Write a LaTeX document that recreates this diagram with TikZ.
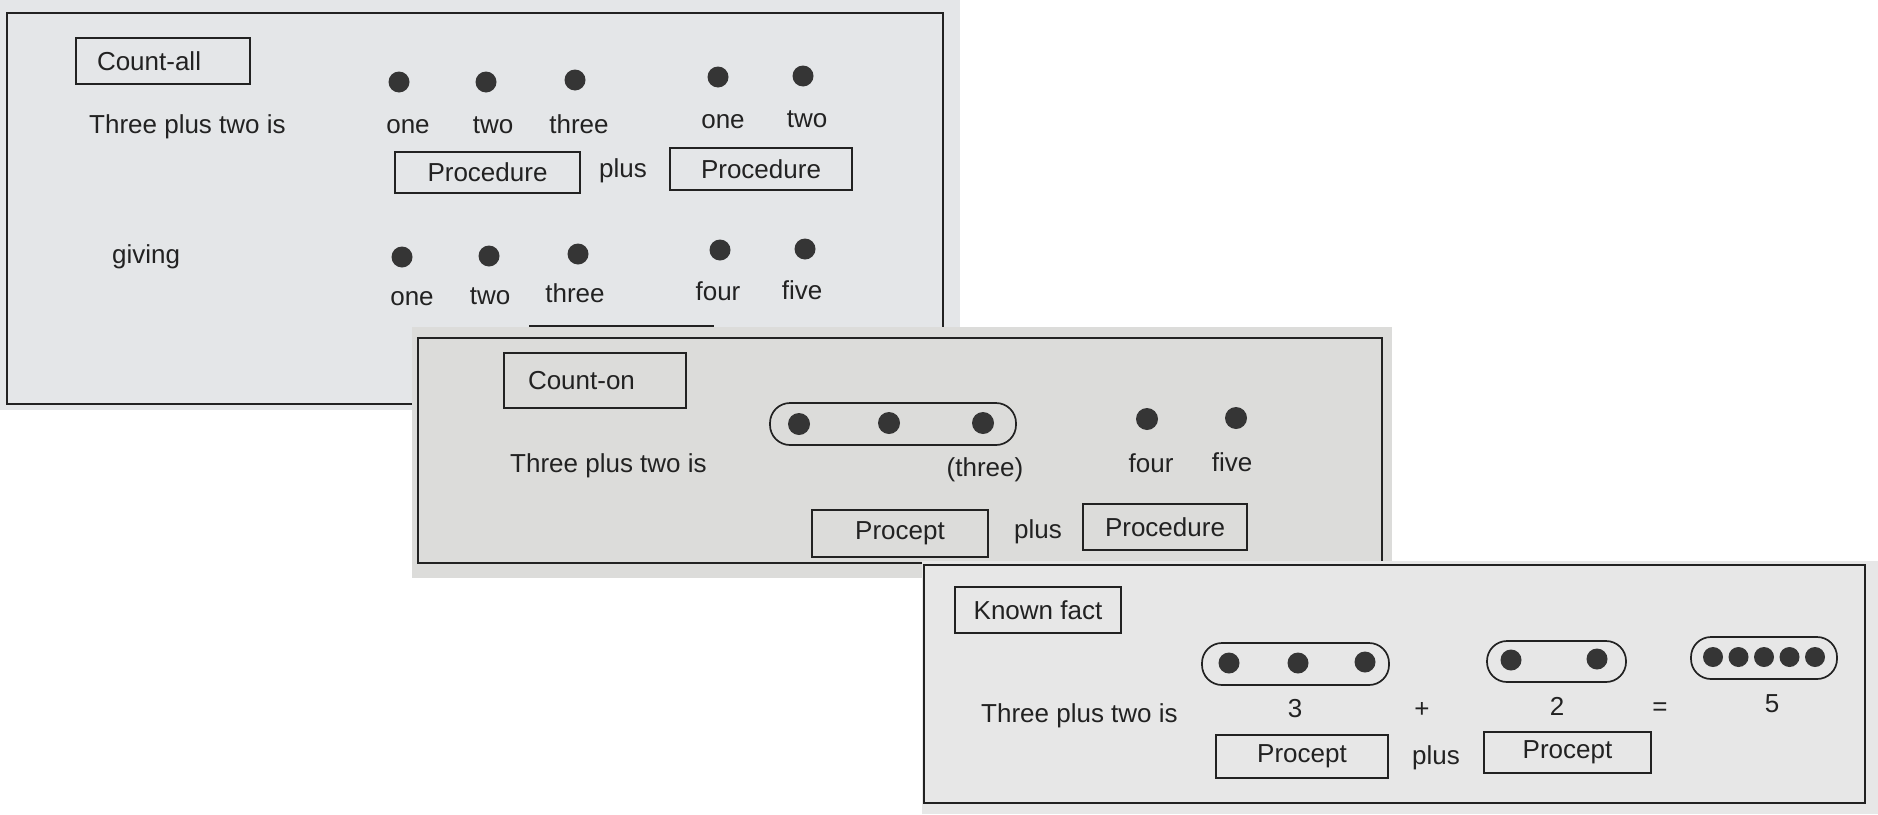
\documentclass[tikz,border=0pt]{standalone}
\usepackage{fontspec}
\setmainfont{Liberation Sans}
\definecolor{ink}{HTML}{222222}
\definecolor{dotc}{HTML}{353535}
\definecolor{pageA}{HTML}{E4E6E8}
\definecolor{pageB}{HTML}{DCDCDA}
\definecolor{pageC}{HTML}{E7E7E7}
\newcommand{\labfont}{\fontsize{26}{31}\selectfont}
\tikzset{
  lbl/.style={font=\labfont, text=ink, inner sep=0pt},
  boxed/.style={draw=ink, line width=1.7pt, font=\labfont, text=ink, inner sep=0pt},
  frame/.style={draw=ink, line width=2.2pt},
  dot/.style={circle, fill=dotc, inner sep=0pt, minimum size=21pt},
  capsule/.style={draw=ink, line width=1.7pt, inner sep=0pt, rounded corners=20pt},
}
\begin{document}
\begin{tikzpicture}[x=1pt,y=-1pt]
\useasboundingbox (0,0) rectangle (1878,814);
\fill[white] (0,0) rectangle (1878,814);

% ---------- Count-all ----------
\fill[pageA] (0,0) rectangle (960,410);
\draw[frame] (7,13) rectangle (943,404);
\node[boxed, minimum height=46pt, text width=132pt, inner xsep=21pt, align=left] (countall) at (163,61) {Count-all};
\node[lbl, anchor=base west] (a-intro) at (89,133) {Three plus two is};
\node[dot] (a-d1) at (399,82) {};
\node[dot] (a-d2) at (486,82) {};
\node[dot] (a-d3) at (575,80) {};
\node[dot] (a-d4) at (718,77) {};
\node[dot] (a-d5) at (803,76) {};
\node[lbl, anchor=base] (a-l1) at (408,133) {one};
\node[lbl, anchor=base] (a-l2) at (493,133) {two};
\node[lbl, anchor=base] (a-l3) at (579,133) {three};
\node[lbl, anchor=base] (a-l4) at (723,128) {one};
\node[lbl, anchor=base] (a-l5) at (807,127) {two};
\node[boxed, minimum width=185pt, minimum height=41pt] (a-proc1) at (487.5,172.5) {Procedure};
\node[lbl, anchor=base] (a-plus) at (623,177) {plus};
\node[boxed, minimum width=182pt, minimum height=42pt] (a-proc2) at (761,169) {Procedure};
\node[lbl, anchor=base west] (a-giving) at (112,263) {giving};
\node[dot] (a-e1) at (402,257) {};
\node[dot] (a-e2) at (489,256) {};
\node[dot] (a-e3) at (578,254) {};
\node[dot] (a-e4) at (720,250) {};
\node[dot] (a-e5) at (805,249) {};
\node[lbl, anchor=base] (a-m1) at (412,305) {one};
\node[lbl, anchor=base] (a-m2) at (490,304) {two};
\node[lbl, anchor=base] (a-m3) at (575,302) {three};
\node[lbl, anchor=base] (a-m4) at (718,300) {four};
\node[lbl, anchor=base] (a-m5) at (802,299) {five};
\draw[ink, line width=1.7pt] (530,345) -- (530,326) -- (713,326) -- (713,345);

% ---------- Count-on ----------
\fill[pageB] (412,327) rectangle (1392,578);
\draw[frame] (418,338) rectangle (1382,563);
\node[boxed, minimum height=55pt, text width=134pt, inner xsep=24pt, align=left] (counton) at (595,380.5) {Count-on};
\node[lbl, anchor=base west] (b-intro) at (510,472) {Three plus two is};
\node[capsule, minimum width=246pt, minimum height=42pt] (b-cap) at (893,424) {};
\node[dot, minimum size=22pt] (b-d1) at (799,424) {};
\node[dot, minimum size=22pt] (b-d2) at (889,423) {};
\node[dot, minimum size=22pt] (b-d3) at (983,423) {};
\node[dot, minimum size=22pt] (b-d4) at (1147,419) {};
\node[dot, minimum size=22pt] (b-d5) at (1236,418) {};
\node[lbl, anchor=base] (b-three) at (985,476) {(three)};
\node[lbl, anchor=base] (b-four) at (1151,472) {four};
\node[lbl, anchor=base] (b-five) at (1232,471) {five};
\node[boxed, minimum width=176pt, minimum height=47pt] (b-procept) at (900,533.5) {Procept};
\node[lbl, anchor=base] (b-plus) at (1038,538) {plus};
\node[boxed, minimum width=164pt, minimum height=46pt] (b-proc) at (1165,527) {Procedure};

% ---------- Known fact ----------
\fill[pageC] (922,561) rectangle (1878,814);
\draw[frame] (924,565) rectangle (1865,803);
\node[boxed, minimum width=166pt, minimum height=46pt] (known) at (1038,610) {Known fact};
\node[lbl, anchor=base west] (c-intro) at (981,722) {Three plus two is};
\node[capsule, minimum width=187pt, minimum height=42pt] (c-cap1) at (1295.5,664) {};
\node[dot] (c-d1) at (1229,663) {};
\node[dot] (c-d2) at (1298,663) {};
\node[dot] (c-d3) at (1365,662) {};
\node[capsule, minimum width=139pt, minimum height=41pt] (c-cap2) at (1556.5,661.5) {};
\node[dot] (c-d4) at (1511,660) {};
\node[dot] (c-d5) at (1597,659) {};
\node[capsule, minimum width=146pt, minimum height=42pt] (c-cap3) at (1764,658) {};
\node[dot, minimum size=20pt] (c-f1) at (1713,657) {};
\node[dot, minimum size=20pt] (c-f2) at (1738.5,657) {};
\node[dot, minimum size=20pt] (c-f3) at (1764,657) {};
\node[dot, minimum size=20pt] (c-f4) at (1789.5,657) {};
\node[dot, minimum size=20pt] (c-f5) at (1815,657) {};
\node[lbl, anchor=base] (c-n3) at (1295,717) {3};
\node[lbl, anchor=base] (c-add) at (1422,717) {+};
\node[lbl, anchor=base] (c-n2) at (1557,715) {2};
\node[lbl, anchor=base] (c-eq) at (1660,715) {=};
\node[lbl, anchor=base] (c-n5) at (1772,712) {5};
\node[boxed, minimum width=172pt, minimum height=43pt] (c-procept1) at (1302,756.5) {Procept};
\node[lbl, anchor=base] (c-plus) at (1436,764) {plus};
\node[boxed, minimum width=167pt, minimum height=41pt] (c-procept2) at (1567.5,752.5) {Procept};
\end{tikzpicture}
\end{document}
